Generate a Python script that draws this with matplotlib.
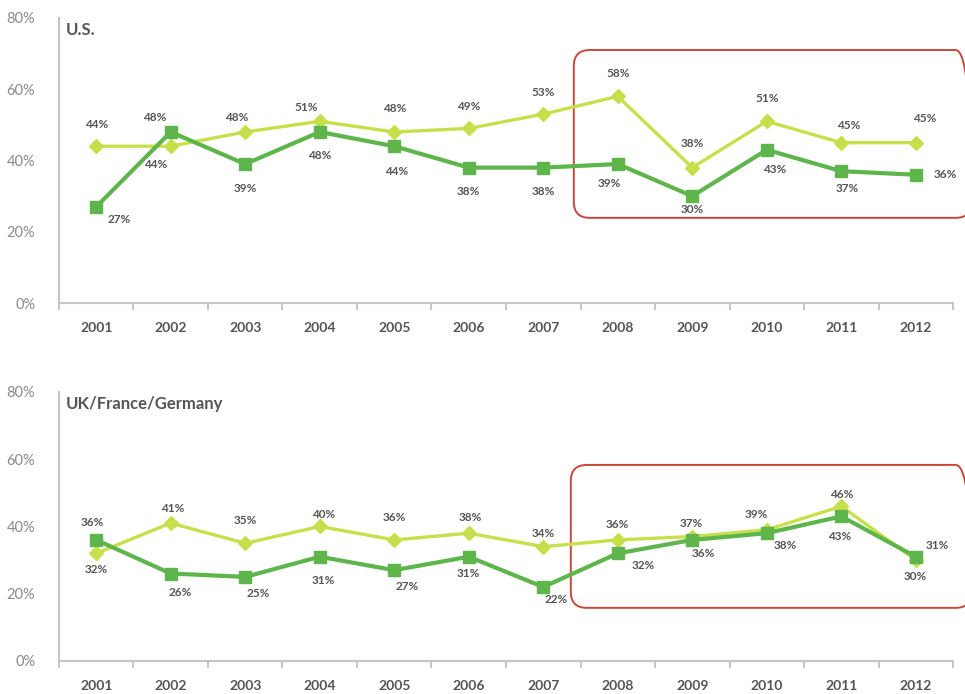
import numpy as np
import matplotlib.pyplot as plt
from matplotlib.patches import FancyBboxPatch

anos = ['2001', '2002', '2003', '2004', '2005', '2006', '2007', '2008', '2009', '2010', '2011', '2012']

# US
us_claro = [44, 44, 48, 51, 48, 49, 53, 58, 38, 51, 45, 45]
us_escuro = [27, 48, 39, 48, 44, 38, 38, 39, 30, 43, 37, 36]

# UK/France/Germany
eu_claro = [32, 41, 35, 40, 36, 38, 34, 36, 37, 39, 46, 30]
eu_escuro = [36, 26, 25, 31, 27, 31, 22, 32, 36, 38, 43, 31]

# deslocamento dos rotulos (pixels, y para cima)
us_claro_off = [(0, 22), (-15, -18), (-9, 14), (-14, 14), (0, 23), (0, 22), (0, 22), (0, 23), (0, 24), (0, 23), (7, 17), (9, 24)]
us_escuro_off = [(23, -13), (-16, 14), (0, -24), (0, -24), (2, -25), (0, -24), (0, -24), (-8, -19), (0, -13), (8, -20), (6, -17), (30, 0)]
eu_claro_off = [(0, -16), (2, 15), (0, 23), (4, 12), (0, 22), (2, 16), (0, 13), (0, 15), (-1, 13), (-10, 15), (0, 12), (0, -16)]
eu_escuro_off = [(-4, 17), (10, -19), (13, -17), (4, -24), (13, -16), (0, -17), (13, -13), (26, -12), (11, -14), (19, -12), (-2, -20), (22, 11)]

cor_claro = '#c8df4c'
cor_escuro = '#5db54b'
cor_texto = '#555555'

plt.rcParams['font.family'] = ['Lato', 'DejaVu Sans']

fig = plt.figure(figsize=(9.65, 6.94), dpi=100)
ax_us = fig.add_axes([0.0611, 0.5634, 0.9265, 0.4107])
ax_eu = fig.add_axes([0.0611, 0.0476, 0.9265, 0.3876])


def desenhar(ax, titulo, claro, escuro, off_claro, off_escuro, caixa):
    x = np.arange(len(anos))
    ax.plot(x, claro, color=cor_claro, lw=2.4, marker='D', ms=7, mec=cor_claro, zorder=3)
    ax.plot(x, escuro, color=cor_escuro, lw=3, marker='s', ms=9, mec=cor_escuro, zorder=4)

    for xi, v, (dx, dy) in zip(x, claro, off_claro):
        ax.annotate(f'{v}%', (xi, v), xytext=(dx, dy), textcoords='offset pixels',
                    ha='center', va='center', fontsize=8.5, fontweight='bold', color=cor_texto)
    for xi, v, (dx, dy) in zip(x, escuro, off_escuro):
        ax.annotate(f'{v}%', (xi, v), xytext=(dx, dy), textcoords='offset pixels',
                    ha='center', va='center', fontsize=8.5, fontweight='bold', color=cor_texto)

    ax.set_xlim(-0.5, 11.5)
    ax.set_ylim(0, 80)
    ax.set_yticks([0, 20, 40, 60, 80])
    ax.set_yticklabels(['0%', '20%', '40%', '60%', '80%'], fontsize=10.5, color='#8a8a8a')
    ax.tick_params(axis='y', length=0, pad=17)

    ax.set_xticks(np.arange(-0.5, 12, 1))
    ax.set_xticklabels([])
    ax.set_xticks(x, minor=True)
    ax.set_xticklabels(anos, minor=True, fontsize=10, fontweight='bold', color=cor_texto)
    ax.tick_params(axis='x', which='major', length=5, color='#bbbbbb', width=1.2, direction='out')
    ax.tick_params(axis='x', which='minor', length=0, pad=14)

    for lado in ['top', 'right']:
        ax.spines[lado].set_visible(False)
    for lado in ['left', 'bottom']:
        ax.spines[lado].set_color('#c4c4c4')
        ax.spines[lado].set_linewidth(1.5)

    ax.text(0.008, 0.985, titulo, transform=ax.transAxes, ha='left', va='top',
            fontsize=12, fontweight='bold', color=cor_texto)

    # caixa vermelha de destaque
    x0, x1, y0, y1 = caixa
    bbox = ax.get_window_extent()
    px_x = bbox.width / 12.0
    px_y = bbox.height / 80.0
    aspecto = px_x / px_y
    raio = 16 / px_x
    ret = FancyBboxPatch((x0, y0), x1 - x0, y1 - y0,
                         boxstyle=f'round,pad=0,rounding_size={raio}',
                         mutation_aspect=aspecto, fill=False, ec='#c8483a', lw=1.4,
                         clip_on=False, zorder=2)
    ax.add_patch(ret)


desenhar(ax_us, 'U.S.', us_claro, us_escuro, us_claro_off, us_escuro_off, (6.41, 11.75, 23.9, 71.0))
desenhar(ax_eu, 'UK/France/Germany', eu_claro, eu_escuro, eu_claro_off, eu_escuro_off, (6.37, 11.75, 15.8, 58.3))

fig.savefig('out.png', dpi=100)
